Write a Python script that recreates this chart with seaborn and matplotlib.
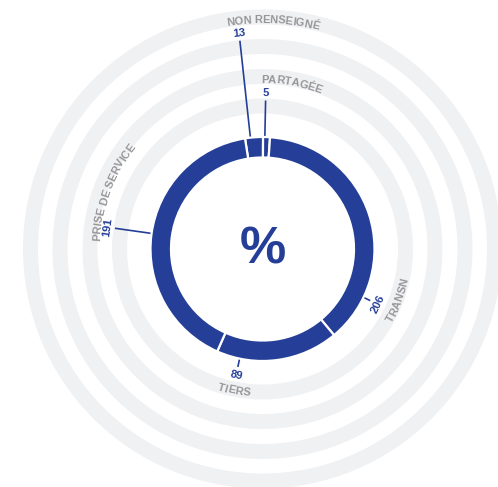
import numpy as np
import matplotlib
matplotlib.use("Agg")
import matplotlib.pyplot as plt
import seaborn as sns
from matplotlib.patches import Wedge
from matplotlib.font_manager import FontProperties, findfont, get_font

# ---------------- data ----------------
categories = ["NON RENSEIGNÉ", "PARTAGÉE", "TRANSN", "TIERS", "PRISE DE SERVICE"]
label_values = [13, 5, 206, 89, 191]          # numbers printed next to the ring
arc_values = [13, 5, 191, 89, 206]            # segment sizes as drawn, clockwise from top
center_label = "%"

# ---------------- layout ----------------
W, H = 498, 487
CX, CY = 262.5, 238.0
R_OUT, R_W = 112.0, 20.5
START = -9.0                                  # degrees, clockwise from top
ring_radii = [143, 172.5, 202.5, 232]
RING_W = 15
num_angle = [-6.2, 1.2, 115.6, 191.8, 278.0]
num_r = [217.5, 156.5, 127.5, 128.5, 157.0]
lab_angle = [2.6, 9.9, 110.8, 191.4, 290.8]
lab_r = [230.0, 170.0, 145.0, 143.7, 166.5]

BLUE = "#253F98"
GREY_TXT = "#969698"
RING = "#f0f1f3"
LAB_PT = 8.0
NUM_PT = 8.2

sns.set_theme(style="white")
plt.rcParams['font.family'] = ['Liberation Sans', 'DejaVu Sans']

fig = plt.figure(figsize=(W / 100, H / 100), dpi=100)
ax = fig.add_axes([0, 0, 1, 1])


def polar(theta, r):
    t = np.deg2rad(theta)
    return CX + r * np.sin(t), CY + r * np.cos(t)


def tangent_rot(theta):
    th = theta % 360
    return 180 - th if 90 < th < 270 else -th


# background rings
for r in ring_radii:
    ax.add_patch(Wedge((CX, CY), r + RING_W / 2, 0, 360, width=RING_W,
                       facecolor=RING, edgecolor='none', zorder=0))

# connectors
for a, rn in zip(num_angle, num_r):
    x0, y0 = polar(a, R_OUT - 5)
    x1, y1 = polar(a, rn - 8)
    ax.plot([x0, x1], [y0, y1], color=BLUE, lw=1.2, zorder=1, solid_capstyle='butt')

# donut
ax.pie(arc_values, radius=R_OUT, center=(CX, CY), startangle=90 - START,
       counterclock=False, colors=[BLUE] * len(arc_values),
       wedgeprops=dict(width=R_W, edgecolor='white', linewidth=1.6, zorder=2),
       frame=True)

# numbers
for v, a, rn in zip(label_values, num_angle, num_r):
    x, y = polar(a, rn)
    ax.text(x, y, str(v), color=BLUE, fontsize=NUM_PT, fontweight='bold',
            ha='center', va='center_baseline', rotation=tangent_rot(a),
            rotation_mode='anchor', zorder=3)


# curved category labels
def curved_label(text, theta_c, r, size_pt, color):
    fp = FontProperties(family='Liberation Sans', weight='bold', size=size_pt)
    font = get_font(findfont(fp))
    font.set_size(size_pt, 100)
    advs = [font.load_char(ord(c)).linearHoriAdvance / 65536 for c in text]
    total = sum(advs)
    bottom = 90 < theta_c % 360 < 270
    cap = 0.716 * size_pt * 100 / 72
    pos = 0.0
    for c, adv in zip(text, advs):
        mid = pos + adv / 2 - total / 2
        pos += adv
        if c == ' ':
            continue
        dth = np.rad2deg(mid / r)
        th = theta_c - dth if bottom else theta_c + dth
        rb = r + cap / 2 if bottom else r - cap / 2
        x, y = polar(th, rb)
        ax.text(x, y, c, fontproperties=fp, color=color, ha='center',
                va='baseline', rotation=tangent_rot(th),
                rotation_mode='anchor', zorder=3)


for cat, a, rl in zip(categories, lab_angle, lab_r):
    curved_label(cat, a, rl, LAB_PT, GREY_TXT)

# centre label
ax.text(263.3, H - 263.3, center_label, color=BLUE, fontsize=37.5,
        fontweight='bold', ha='center', va='baseline', zorder=3)

ax.set_xlim(0, W)
ax.set_ylim(0, H)
ax.set_aspect('equal')
ax.axis('off')
fig.savefig("out.png", dpi=100, facecolor='white')
